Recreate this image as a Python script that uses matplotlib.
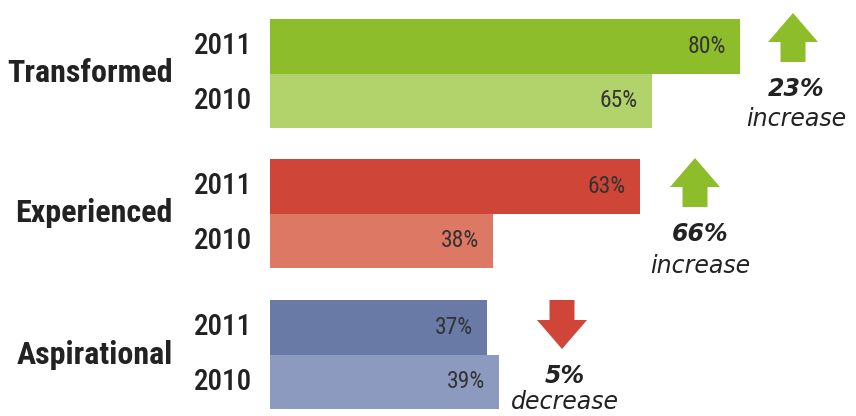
import matplotlib.pyplot as plt
from matplotlib.patches import Polygon
from matplotlib import font_manager as fm

# Data
groups = ['Transformed', 'Experienced', 'Aspirational']
years = ['2011', '2010']
vals_2011 = [80, 63, 37]
vals_2010 = [65, 38, 39]
change_txt = ['23%', '66%', '5%']
change_word = ['increase', 'increase', 'decrease']
change_up = [True, True, False]

col_2011 = ['#8dbd2b', '#cf4538', '#6a7aa6']
col_2010 = ['#b2d26b', '#dc7863', '#8d9ac0']
arrow_up_col = '#8dbd2b'
arrow_dn_col = '#cf4538'

# pick a condensed font that has a bold face, fall back to DejaVu
have = {}
for f in fm.fontManager.ttflist:
    have.setdefault(f.name, set()).add(f.weight)
cond = 'DejaVu Sans'
for name in ['Roboto Condensed', 'Liberation Sans Narrow', 'Oswald', 'Saira SemiCondensed']:
    if name in have and any(w >= 600 for w in have[name] if isinstance(w, int)):
        cond = name
        break
NARROW = [cond, 'DejaVu Sans']

# pixel layout helpers (figure is 856x416 px)
scale = 5.87   # px per percent
x0 = 270       # bar left edge in px
def px(x):
    return (x - x0) / scale

fig = plt.figure(figsize=(8.56, 4.16), dpi=100)
ax = fig.add_axes([0, 0, 1, 1])
ax.set_xlim(px(0), px(856))
ax.set_ylim(416, 0)
ax.axis('off')

group_top = [19, 159, 300]
bar_h = 54.5

for i, g in enumerate(groups):
    y11 = group_top[i] + bar_h / 2
    y10 = group_top[i] + bar_h * 1.5
    ax.barh(y11, vals_2011[i], height=bar_h, left=0, color=col_2011[i])
    ax.barh(y10, vals_2010[i], height=bar_h, left=0, color=col_2010[i])
    for y, v in [(y11, vals_2011[i]), (y10, vals_2010[i])]:
        ax.text(v - 14 / scale, y, f'{v}%', ha='right', va='center',
                fontsize=17, family=NARROW, color='#333333')
    ax.text(px(252), y11, years[0], ha='right', va='center', fontsize=21,
            fontweight='medium', family=NARROW, color='#222222')
    ax.text(px(252), y10, years[1], ha='right', va='center', fontsize=21,
            fontweight='medium', family=NARROW, color='#222222')
    ax.text(px(173), group_top[i] + bar_h, g, ha='right', va='center',
            fontsize=23, fontweight='bold', family=NARROW, color='#222222')

# change arrows and notes
arrow_cx = [793, 695, 562]
arrow_top = [13, 158, 300]
note_cx = [796, 700, 565]
word_dy = [106, 108, 102]
for i in range(3):
    cx, t = arrow_cx[i], arrow_top[i]
    hw, sw, hh, L = 25, 12.5, 29, 49
    if change_up[i]:
        pts = [(cx, t), (cx + hw, t + hh), (cx + sw, t + hh), (cx + sw, t + L),
               (cx - sw, t + L), (cx - sw, t + hh), (cx - hw, t + hh)]
        c = arrow_up_col
    else:
        pts = [(cx, t + L), (cx + hw, t + L - hh), (cx + sw, t + L - hh), (cx + sw, t),
               (cx - sw, t), (cx - sw, t + L - hh), (cx - hw, t + L - hh)]
        c = arrow_dn_col
    ax.add_patch(Polygon([(px(x), y) for x, y in pts], closed=True, color=c, lw=0))
    ax.text(px(note_cx[i]), t + 76, change_txt[i], ha='center', va='center',
            fontsize=17, fontweight='bold', style='italic', color='#222222')
    ax.text(px(note_cx[i]), t + word_dy[i], change_word[i], ha='center', va='center',
            fontsize=17, style='italic', color='#222222')

plt.savefig('out.png', dpi=100)
